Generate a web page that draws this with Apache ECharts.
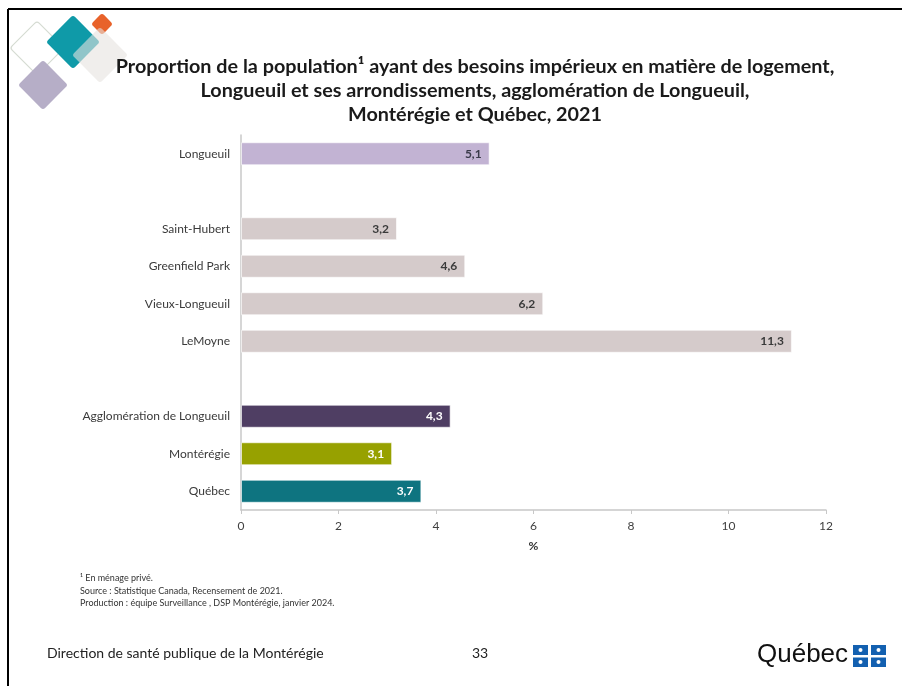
<!DOCTYPE html>
<html>
<head>
<meta charset="utf-8">
<script src="https://cdn.jsdelivr.net/npm/echarts@6/dist/echarts.min.js"></script>
<style>
  html, body { margin: 0; padding: 0; background: #fff; }
  #chart { width: 902px; height: 686px; }
</style>
</head>
<body>
<div id="chart"></div>
<script>
// categories (blank entries are the gaps between groups)
var categories = ['Longueuil', '', 'Saint-Hubert', 'Greenfield Park', 'Vieux-Longueuil', 'LeMoyne',
  '', 'Agglomération de Longueuil', 'Montérégie', 'Québec'];
var values = [5.1, null, 3.2, 4.6, 6.2, 11.3, null, 4.3, 3.1, 3.7];
var xTicks = [0, 2, 4, 6, 8, 10, 12];

// styles per bar
var barColors = ['#c2b3d3', null, '#d5cbcb', '#d5cbcb', '#d5cbcb', '#d5cbcb', null, '#4f3e63', '#97a100', '#0e7480'];
var labelColors = ['#3a3a4a', null, '#3a3a3a', '#3a3a3a', '#3a3a3a', '#3a3a3a', null, '#fff', '#fff', '#fff'];

var font = 'Lato, "Liberation Sans", sans-serif';
var chart = echarts.init(document.getElementById('chart'));

function diamond(cx, cy, half, fill, opacity, stroke) {
  var s = half * Math.SQRT2;
  return {
    type: 'rect',
    x: cx, y: cy,
    rotation: Math.PI / 4,
    shape: { x: -s / 2, y: -s / 2, width: s, height: s, r: 3 },
    style: { fill: fill, opacity: opacity, stroke: stroke || null, lineWidth: stroke ? 1.2 : 0 },
    silent: true
  };
}

var option = {
  backgroundColor: '#fff',
  animation: false,
  textStyle: { fontFamily: font },
  title: {
    text: 'Proportion de la population¹ ayant des besoins impérieux en matière de logement,\nLongueuil et ses arrondissements, agglomération de Longueuil,\nMontérégie et Québec, 2021',
    left: 470, top: 50, textAlign: 'center',
    textStyle: { fontFamily: font, fontSize: 19.8, fontWeight: 'bold', color: '#1a1a1a', lineHeight: 24 }
  },
  grid: { left: 241, top: 135, width: 585, height: 375, containLabel: false },
  xAxis: {
    type: 'value',
    min: xTicks[0], max: xTicks[xTicks.length - 1], interval: 2,
    name: '%', nameLocation: 'middle', nameGap: 30,
    nameTextStyle: { fontFamily: font, fontSize: 12, fontWeight: 'bold', color: '#333' },
    axisLine: { show: true, lineStyle: { color: '#c8c8c8', width: 1.5 } },
    axisTick: { show: true, length: 4, lineStyle: { color: '#c8c8c8' } },
    axisLabel: { fontFamily: font, fontSize: 12, color: '#404040', margin: 10 },
    splitLine: { show: false }
  },
  yAxis: {
    type: 'category',
    inverse: true,
    data: categories,
    axisLine: { show: true, lineStyle: { color: '#c8c8c8', width: 1.5 } },
    axisTick: { show: false },
    axisLabel: { fontFamily: font, fontSize: 12, color: '#3a3a3a', margin: 11 }
  },
  series: [{
    type: 'bar',
    barWidth: 23,
    data: values.map(function (v, i) {
      if (v === null) return '-';
      return {
        value: v,
        itemStyle: { color: barColors[i], borderColor: 'rgba(255,255,255,0.6)', borderWidth: 1 },
        label: { color: labelColors[i] }
      };
    }),
    label: {
      show: true,
      position: 'insideRight',
      distance: 8,
      fontFamily: font, fontSize: 12, fontWeight: 'bold',
      formatter: function (p) { return p.value.toFixed(1).replace('.', ','); }
    }
  }],
  graphic: [
    // slide border
    { type: 'line', shape: { x1: 8, y1: 9, x2: 902, y2: 9 }, style: { stroke: '#000', lineWidth: 2 }, silent: true },
    { type: 'line', shape: { x1: 8, y1: 9, x2: 8, y2: 686 }, style: { stroke: '#000', lineWidth: 2 }, silent: true },
    // logo diamonds
    diamond(37, 48, 27, 'none', 1, '#d5dbd2'),
    diamond(73, 42, 27, '#0f9aa8', 1),
    diamond(102, 24, 11, '#e8622a', 1),
    diamond(100, 55, 28, '#e6e2df', 0.6),
    diamond(43, 85, 25, '#b6aec7', 1),
    // footnotes
    {
      type: 'text', left: 80, top: 572,
      style: {
        text: '¹ En ménage privé.\nSource : Statistique Canada, Recensement de 2021.\nProduction : équipe Surveillance , DSP Montérégie, janvier 2024.',
        font: '9px ' + font, fill: '#333', lineHeight: 12.5
      }
    },
    { type: 'text', left: 47, top: 646, style: { text: 'Direction de santé publique de la Montérégie', font: '14px ' + font, fill: '#222' } },
    { type: 'text', left: 472, top: 646, style: { text: '33', font: '14px ' + font, fill: '#222' } },
    // Québec signature
    { type: 'text', left: 757, top: 642, style: { text: 'Québec', font: '26px "Liberation Sans", sans-serif', fill: '#111' } },
    { type: 'rect', shape: { x: 853, y: 645, width: 33, height: 22 }, style: { fill: '#1360b0' }, silent: true },
    { type: 'rect', shape: { x: 868, y: 645, width: 3, height: 22 }, style: { fill: '#fff' }, silent: true },
    { type: 'rect', shape: { x: 853, y: 655, width: 33, height: 2.5 }, style: { fill: '#fff' }, silent: true },
    { type: 'circle', shape: { cx: 860.5, cy: 650, r: 2 }, style: { fill: '#fff' }, silent: true },
    { type: 'circle', shape: { cx: 878.5, cy: 650, r: 2 }, style: { fill: '#fff' }, silent: true },
    { type: 'circle', shape: { cx: 860.5, cy: 662, r: 2 }, style: { fill: '#fff' }, silent: true },
    { type: 'circle', shape: { cx: 878.5, cy: 662, r: 2 }, style: { fill: '#fff' }, silent: true }
  ]
};

chart.setOption(option);
</script>
</body>
</html>
